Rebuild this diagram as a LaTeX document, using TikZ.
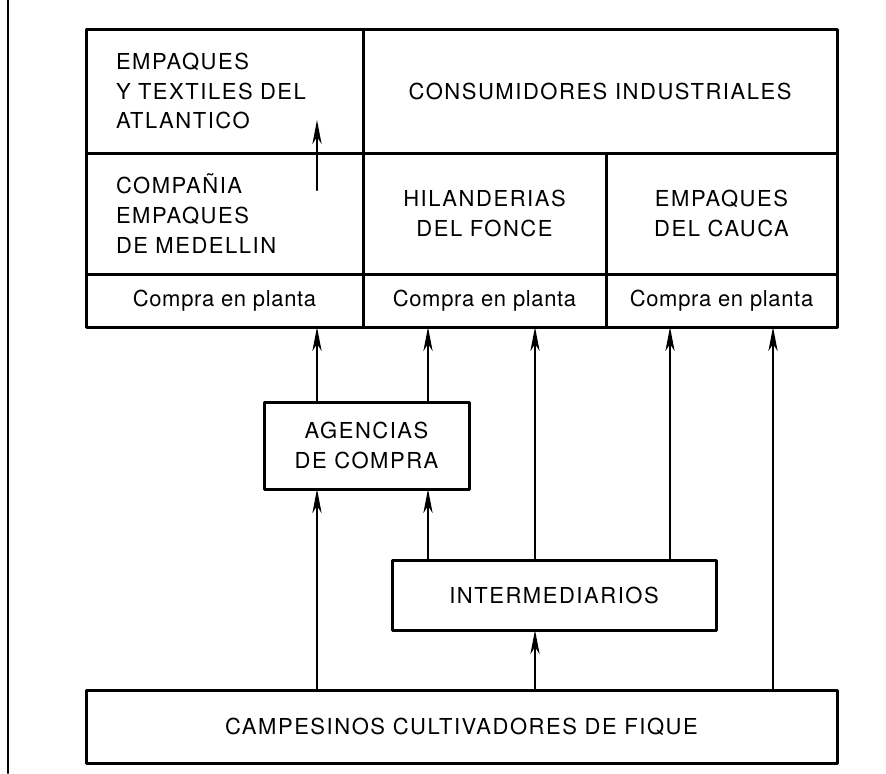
\documentclass[tikz,border=0pt]{standalone}
\usepackage{fontspec}
\setmainfont{TeX Gyre Heros}[LetterSpace=7]
\usetikzlibrary{arrows.meta}
\begin{document}
\begin{tikzpicture}[x=0.5pt, y=-0.5pt, line cap=round, line join=round, font=\fontsize{11}{14.8}\selectfont]
\tikzset{cell/.style={draw, line width=1.5pt, outer sep=0pt, anchor=north west, inner sep=0pt, align=center},
  leftcell/.style={cell, align=left, inner xsep=15pt, text width=108.5pt},
  buycell/.style={cell, minimum height=26.5pt, font=\fontsize{11}{14.8}\selectfont\addfontfeatures{LetterSpace=3}},
  flow/.style={-{Stealth[length=12pt, width=4.6pt, inset=3.5pt]}, line width=1pt}}
\useasboundingbox (0,0) rectangle (886,773);
\draw[line width=1.1pt] (8,0) -- (8,773);
\node[leftcell, minimum width=138.5pt, minimum height=62pt] (atl) at (86,29) {EMPAQUES\\Y TEXTILES DEL\\ATLANTICO};
\node[cell, minimum width=237pt, minimum height=62pt] (cons) at (363,29) {CONSUMIDORES INDUSTRIALES};
\node[leftcell, minimum width=138.5pt, minimum height=60.5pt] (med) at (86,153) {COMPAÑIA\\EMPAQUES\\DE MEDELLIN};
\node[cell, minimum width=121.5pt, minimum height=60.5pt] (fonce) at (363,153) {HILANDERIAS\\DEL FONCE};
\node[cell, minimum width=115.5pt, minimum height=60.5pt] (cauca) at (606,153) {EMPAQUES\\DEL CAUCA};
\node[buycell, minimum width=138.5pt] (cp1) at (86,274) {Compra en planta};
\node[buycell, minimum width=121.5pt] (cp2) at (363,274) {Compra en planta};
\node[buycell, minimum width=115.5pt] (cp3) at (606,274) {Compra en planta};
\node[cell, minimum width=102.5pt, minimum height=43.5pt] (agen) at (264,402) {AGENCIAS\\DE COMPRA};
\node[cell, minimum width=162pt, minimum height=35pt] (inter) at (392,560) {INTERMEDIARIOS};
\node[cell, minimum width=375.5pt, minimum height=36.5pt] (camp) at (86,690) {CAMPESINOS CULTIVADORES DE FIQUE};
\coordinate (ua) at (317,190);
\coordinate (ub) at (317,120);
\coordinate (c1) at (317,0);
\coordinate (c2) at (428,0);
\coordinate (c3) at (535,0);
\coordinate (c4) at (670,0);
\coordinate (c5) at (773,0);
\draw[flow] (ua) -- (ub);
\draw[flow] (agen.north -| c1) -- (cp1.south -| c1);
\draw[flow] (agen.north -| c2) -- (cp2.south -| c2);
\draw[flow] (camp.north -| c1) -- (agen.south -| c1);
\draw[flow] (inter.north -| c2) -- (agen.south -| c2);
\draw[flow] (inter.north -| c3) -- (cp2.south -| c3);
\draw[flow] (inter.north -| c4) -- (cp3.south -| c4);
\draw[flow] (camp.north -| c3) -- (inter.south -| c3);
\draw[flow] (camp.north -| c5) -- (cp3.south -| c5);
\end{tikzpicture}
\end{document}
